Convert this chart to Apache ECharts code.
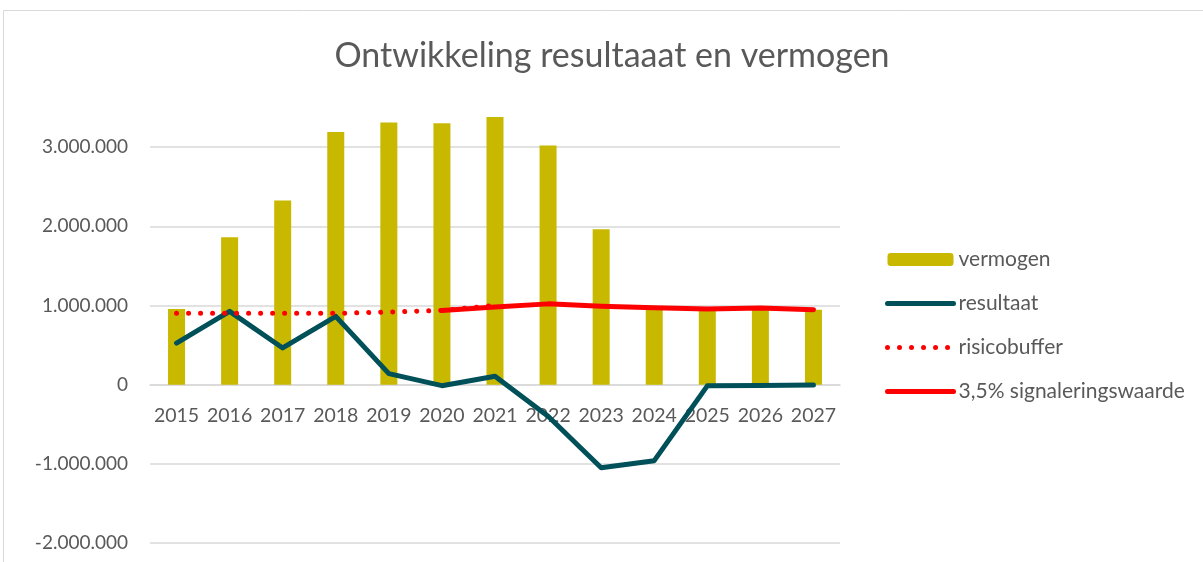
<!DOCTYPE html>
<html>
<head>
<meta charset="utf-8">
<title>Ontwikkeling resultaat en vermogen</title>
<script src="https://cdn.jsdelivr.net/npm/echarts@6/dist/echarts.min.js"></script>
<style>
    html, body {margin: 0; padding: 0; background: #fff;}
    #chart {width: 1203px; height: 562px;}
</style>
</head>
<body>
<div id="chart"></div>
<script>
'use strict';

// jaren
let jaren = ['2015', '2016', '2017', '2018', '2019', '2020', '2021', '2022', '2023', '2024', '2025', '2026', '2027'];
// vermogen (staven)
let vermogen = [955000, 1862000, 2325000, 3190000, 3310000, 3300000, 3380000, 3020000, 1963000, 946000, 940000, 950000, 946000];
// resultaat
let resultaat = [525000, 925000, 463000, 862000, 139000, -13000, 105000, -400000, -1050000, -960000, -15000, -10000, -5000];
// risicobuffer (stippellijn t/m 2021)
let risicobuffer = [900000, 900000, 900000, 900000, 917000, 937000, 1000000, null, null, null, null, null, null];
// 3,5% signaleringswaarde (vanaf 2020)
let signalering = [null, null, null, null, null, 937000, 980000, 1020000, 990000, 970000, 955000, 967000, 946000];

// as-instellingen
let yMin = -2000000,
    yMax = 3500000,
    yStap = 1000000;

let tekstKleur = '#595959',
    font = 'Lato',
    gridTop = 107.5,
    gridBottom = 19,
    hoogte = 562;

function fmt(v) {
    let s = Math.abs(v).toString().replace(/\B(?=(\d{3})+(?!\d))/g, '.');
    return (v < 0 ? '-' : '') + s;
}

// lijn-icoon in de legenda zonder bolletje
function lijnItem(naam, kleur, type) {
    return {
        name: naam,
        itemStyle: {opacity: 0},
        lineStyle: {color: kleur, width: 5, type: type, cap: 'round'}
    };
}

// x-as op de nullijn leggen (onZero werkt hier niet)
let plotHoogte = hoogte - gridTop - gridBottom,
    nulOffset = -plotHoogte * (0 - yMin) / (yMax - yMin);

let myChart = echarts.init(document.getElementById('chart'), null, {renderer: 'canvas'});

let option = {
    backgroundColor: '#fff',
    animation: false,
    textStyle: {fontFamily: font},
    title: {
        text: 'Ontwikkeling resultaaat en vermogen',
        left: 607,
        textAlign: 'center',
        top: 34,
        textStyle: {color: tekstKleur, fontSize: 34, fontWeight: 'normal', fontFamily: font}
    },
    // kader om de grafiek
    graphic: [{
        type: 'rect',
        shape: {x: 3.5, y: 10.5, width: 1300, height: 700},
        style: {fill: 'none', stroke: '#d9d9d9', lineWidth: 1},
        silent: true
    }],
    legend: {
        orient: 'vertical',
        left: 880,
        top: 244,
        itemWidth: 66,
        itemHeight: 13,
        itemGap: 23,
        textStyle: {color: tekstKleur, fontSize: 21, fontFamily: font},
        data: [
            'vermogen',
            lijnItem('resultaat', '#00505A', 'solid'),
            lijnItem('risicobuffer', '#FF0000', [0.01, 12]),
            lijnItem('3,5% signaleringswaarde', '#FF0000', 'solid')
        ]
    },
    grid: {left: 150, right: 363, top: gridTop, bottom: gridBottom, containLabel: false, outerBoundsMode: 'none'},
    xAxis: {
        type: 'category',
        data: jaren,
        boundaryGap: true,
        position: 'bottom',
        offset: nulOffset,
        axisLine: {onZero: false, lineStyle: {color: '#d9d9d9', width: 1.5}},
        axisTick: {show: false},
        axisLabel: {color: tekstKleur, fontSize: 19.5, margin: 21, interval: 0, fontFamily: font}
    },
    yAxis: {
        type: 'value',
        min: yMin,
        max: yMax,
        interval: yStap,
        axisLine: {show: false},
        axisTick: {show: false},
        axisLabel: {
            color: tekstKleur,
            fontSize: 19,
            margin: 22,
            fontFamily: font,
            showMaxLabel: false,
            formatter: function (v) {
                return v % yStap === 0 ? fmt(v) : '';
            }
        },
        splitLine: {showMaxLine: false, lineStyle: {color: '#d9d9d9', width: 1.5}}
    },
    series: [
        {
            name: 'vermogen',
            type: 'bar',
            data: vermogen,
            barWidth: 17,
            itemStyle: {color: '#C8B900'},
            z: 1
        },
        {
            name: 'resultaat',
            type: 'line',
            data: resultaat,
            symbol: 'none',
            lineStyle: {color: '#00505A', width: 5, cap: 'round', join: 'round'},
            itemStyle: {color: '#00505A'},
            z: 3
        },
        {
            name: 'risicobuffer',
            type: 'line',
            data: risicobuffer,
            symbol: 'none',
            lineStyle: {color: '#FF0000', width: 5, type: [0.01, 12], cap: 'round'},
            itemStyle: {color: '#FF0000'},
            z: 4
        },
        {
            name: '3,5% signaleringswaarde',
            type: 'line',
            data: signalering,
            symbol: 'none',
            lineStyle: {color: '#FF0000', width: 5, cap: 'round', join: 'round'},
            itemStyle: {color: '#FF0000'},
            z: 5
        }
    ]
};

myChart.setOption(option);
</script>
</body>
</html>
